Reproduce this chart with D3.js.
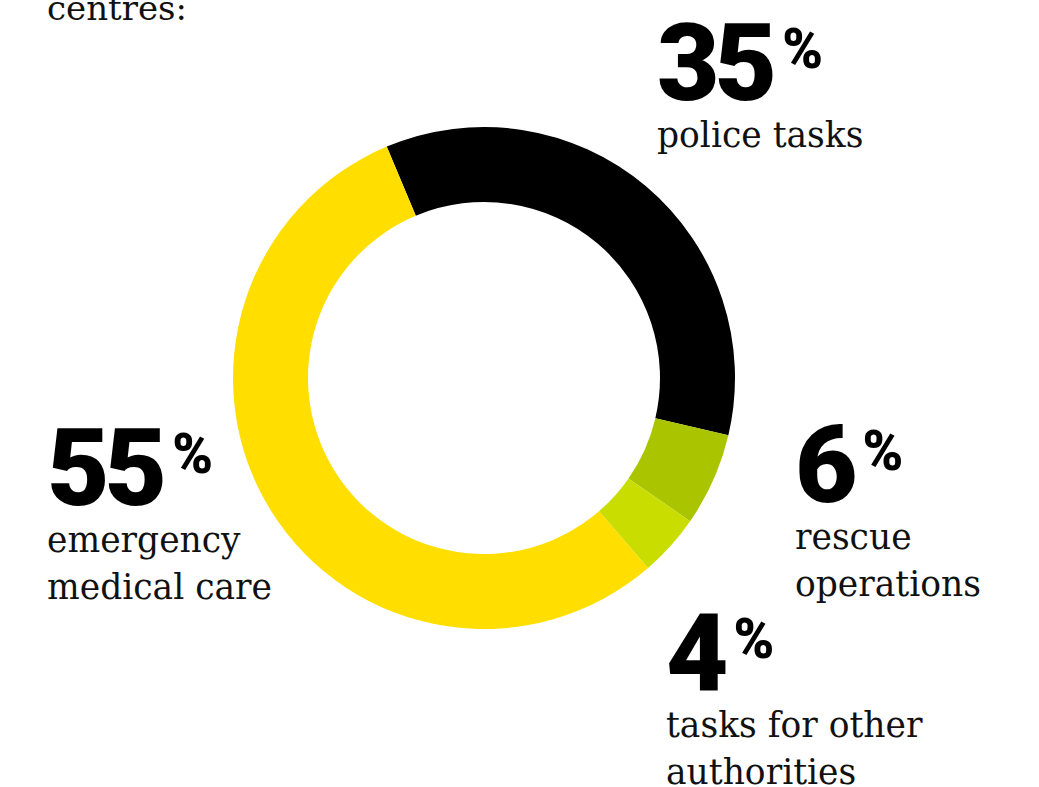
<!DOCTYPE html>
<html lang="en">
	<head>
		<meta charset="utf-8">
		<title>Emergency call centres</title>
		<script src="https://cdn.jsdelivr.net/npm/d3@7/dist/d3.min.js"></script>
		<style>
			body { margin: 0; background: #fff; }
			.big { font-family: Roboto, sans-serif; font-weight: 900; }
			.lbl { font-family: "DejaVu Serif", serif; }
		</style>
	</head>
	<body>
	<script type="text/javascript">
			// data
			var categories = ["police tasks", "rescue operations", "tasks for other authorities", "emergency medical care"];
			var shares = [35, 6, 4, 55];
			var colours = ["#000000", "#aac500", "#c9dd00", "#ffde00"];
			// label lines (wrapped as in the picture)
			var labelLines = [["police tasks"], ["rescue", "operations"], ["tasks for other", "authorities"], ["emergency", "medical care"]];

			//setup
			var width = 1039, height = 787;
			var cx = 484, cy = 378;
			var rOuter = 251, rInner = 176;
			var svg = d3.select("body")
									.append("svg")
									.attr("width", width)
									.attr("height", height);

			// title (cut off at the top in the picture)
			svg.append("text")
					.attr("class", "lbl")
					.attr("x", 47)
					.attr("y", 20)
					.attr("font-size", 34)
					.attr("fill", "#111")
					.text("centres:");

			var pie = d3.pie()
					.sort(null)
					.value(function(d) { return d; })
					.startAngle(-0.398)
					.endAngle(-0.398 + 2 * Math.PI);

			var arc = d3.arc().innerRadius(rInner).outerRadius(rOuter);

			svg.append("g")
					.attr("transform", "translate(" + cx + "," + cy + ")")
					.selectAll("path")
					.data(pie(shares))
					.enter().append("path")
					.attr("d", arc)
					.attr("fill", function(d, i) { return colours[i]; });

			// where each label block sits (left x, baseline of the big number)
			var labelPos = [[657, 100], [795, 502], [666, 690], [47, 505]];

			var blocks = svg.selectAll("g.label")
					.data(shares)
					.enter().append("g")
					.attr("class", "label")
					.attr("transform", function(d, i) {
							return "translate(" + labelPos[i][0] + "," + labelPos[i][1] + ")";
					});

			blocks.each(function(d, i) {
					var g = d3.select(this);
					var num = g.append("text")
							.attr("class", "big")
							.attr("font-size", 108)
							.attr("letter-spacing", -5)
							.attr("fill", "#000")
							.text(d);
					var w = num.node().getComputedTextLength();
					g.append("text")
							.attr("class", "big")
							.attr("x", w + 10)
							.attr("y", -32)
							.attr("font-size", 55)
							.attr("font-weight", 700)
							.attr("fill", "#000")
							.text("%");
					labelLines[i].forEach(function(line, k) {
							g.append("text")
									.attr("class", "lbl")
									.attr("y", 47 + k * 47)
									.attr("font-size", 34.5)
									.attr("fill", "#111")
									.text(line);
					});
			});
	</script>
	</body>
</html>
